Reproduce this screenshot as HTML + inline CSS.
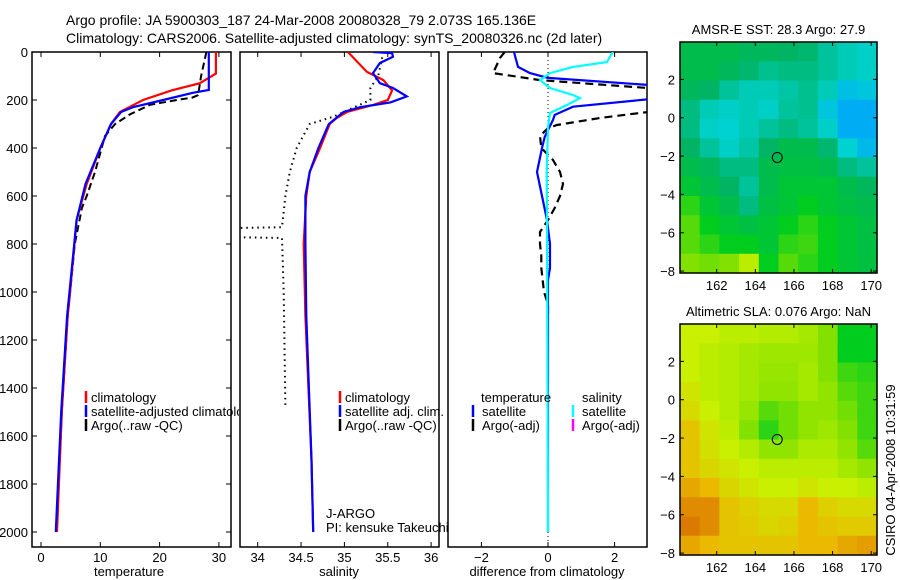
<!DOCTYPE html>
<html><head><meta charset="utf-8"><style>
html,body{margin:0;padding:0;background:#fff;}
svg{display:block;font-family:"Liberation Sans",sans-serif;}
</style></head><body>
<svg id="fig" width="900" height="580" viewBox="0 0 900 580" xmlns="http://www.w3.org/2000/svg">
<defs>
<clipPath id="c1"><rect x="32" y="52" width="199" height="495"/></clipPath>
<clipPath id="c1w"><rect x="32" y="52" width="207" height="495"/></clipPath>
<clipPath id="c2"><rect x="240" y="52" width="199" height="495"/></clipPath>
<clipPath id="c3"><rect x="448" y="52" width="199" height="495"/></clipPath>
</defs>
<text x="66" y="25" font-size="14">Argo profile: JA 5900303_187 24-Mar-2008 20080328_79 2.073S 165.136E</text>
<text x="66" y="43" font-size="14">Climatology: CARS2006. Satellite-adjusted climatology: synTS_20080326.nc (2d later)</text>
<g id="g"></g>
</svg>
<script>
// ---- data ----
const tempClimDepth=[0,90,130,160,200,250,300,400,550,700,1000,1100,1500,2000];
const tempClimVal=[29.5,29.5,26.8,22,17.2,13.3,11.8,10,7.7,6,4.9,4.5,3.5,2.7];
const tempSatDepth=[0,158,170,200,230,250,300,400,550,700,1000,1100,1500,2000];
const tempSatVal=[28.3,28.3,25.6,20.6,15.5,13.5,11.8,10,7.5,6,4.8,4.4,3.4,2.5];
const tempArgoDepth=[0,100,180,190,200,220,260,300,350,500,600,650,800,1000,1100,1500,2000];
const tempArgoVal=[27.9,27,26.5,25.5,22.9,18.4,15,12.5,10.8,9.1,7.7,6.9,5.7,4.9,4.5,3.5,2.6];
const salClimDepth=[0,83,117,160,200,221,250,275,300,400,500,600,800,1100,1700,2000];
const salClimVal=[35.04,35.26,35.45,35.55,35.5,35.33,35.03,34.91,34.83,34.72,34.6,34.56,34.53,34.55,34.62,34.64];
const salSatDepth=[0,5,20,46,88,130,150,185,210,230,250,300,400,500,600,800,1100,1700,2000];
const salSatVal=[35.33,35.55,35.56,35.41,35.33,35.41,35.56,35.72,35.53,35.18,34.99,34.82,34.7,34.6,34.55,34.55,34.56,34.62,34.64];
const salArgoDepth=[0,100,150,200,270,300,400,500,600,700,730,735,770,775,1000,1480];
const salArgoVal=[35.45,35.39,35.3,35.3,34.87,34.6,34.45,34.37,34.32,34.29,34.28,33.5,33.5,34.28,34.3,34.32];
const dTSatDepth=[0,62,88,108,137,170,197,228,262,283,354,400,500,600,700,800,900,950,2000];
const dTSatVal=[-1.02,-0.9,-0.54,0,3,4.5,3,0.75,0.2,0.15,-0.1,-0.18,-0.33,-0.18,-0.03,0.06,0.06,0,0];
const dTArgoDepth=[0,25,88,117,150,200,250,275,304,317,350,400,450,500,550,600,650,700,750,800,850,900,1000,1050,1100];
const dTArgoVal=[-1.3,-1.44,-1.65,-0.24,3,5,3,1.56,0.27,0,-0.24,-0.2,0.15,0.36,0.45,0.36,0.2,0,-0.24,-0.24,-0.2,-0.2,-0.12,0,0];
const dSSatDepth=[0,42,62,88,117,150,179,192,221,254,312,500,700,2000];
const dSSatVal=[1.95,1.77,0.75,0.06,-0.24,0.06,0.75,0.96,0.57,0.06,0,-0.04,-0.03,0];
const depthTicks=[0,200,400,600,800,1000,1200,1400,1600,1800,2000];
const tempTicks=[0,10,20,30];
const salTicks=["34","34.5","35","35.5","36"];
const diffTicks=[-2,0,2];
const lonTicks=[162,164,166,168,170];
const latTicks=[2,0,-2,-4,-6,-8];
const sstGrid=[
[0.45,0.45,0.45,0.42,0.42,0.4,0.38,0.3,0.25,0.22],
[0.45,0.45,0.42,0.38,0.32,0.35,0.35,0.3,0.25,0.22],
[0.42,0.4,0.3,0.25,0.25,0.28,0.32,0.25,0.12,0.15],
[0.35,0.25,0.22,0.25,0.22,0.3,0.32,0.15,0.05,0.05],
[0.35,0.22,0.2,0.25,0.3,0.35,0.3,0.22,0.05,0.05],
[0.4,0.3,0.22,0.28,0.4,0.45,0.45,0.38,0.2,0.1],
[0.45,0.42,0.35,0.35,0.45,0.47,0.47,0.45,0.35,0.3],
[0.5,0.45,0.4,0.3,0.45,0.5,0.5,0.5,0.45,0.42],
[0.6,0.5,0.45,0.35,0.47,0.5,0.55,0.5,0.47,0.45],
[0.65,0.55,0.5,0.47,0.5,0.55,0.6,0.55,0.5,0.47],
[0.65,0.6,0.55,0.55,0.5,0.6,0.62,0.55,0.5,0.47],
[0.7,0.68,0.7,0.78,0.55,0.65,0.6,0.55,0.5,0.48]];
const slaGrid=[
[0.8,0.8,0.78,0.78,0.77,0.77,0.75,0.7,0.55,0.55],
[0.8,0.78,0.77,0.75,0.74,0.74,0.74,0.7,0.55,0.55],
[0.8,0.78,0.77,0.75,0.73,0.73,0.75,0.7,0.62,0.6],
[0.82,0.78,0.77,0.75,0.72,0.72,0.75,0.72,0.65,0.62],
[0.84,0.8,0.77,0.73,0.65,0.68,0.72,0.72,0.68,0.62],
[0.88,0.82,0.78,0.7,0.6,0.68,0.72,0.74,0.7,0.62],
[0.88,0.83,0.8,0.77,0.72,0.72,0.76,0.76,0.72,0.65],
[0.88,0.85,0.82,0.8,0.78,0.78,0.78,0.78,0.75,0.72],
[0.92,0.9,0.85,0.82,0.8,0.8,0.82,0.8,0.8,0.78],
[0.95,0.95,0.88,0.86,0.84,0.84,0.9,0.86,0.84,0.84],
[0.97,0.95,0.88,0.87,0.85,0.86,0.9,0.88,0.87,0.87],
[0.92,0.9,0.88,0.88,0.88,0.88,0.9,0.9,0.92,0.93]];
const floatLon=165.136, floatLat=-2.073;

// ---- helpers ----
const NS="http://www.w3.org/2000/svg";
const G=document.getElementById('g');
function mk(tag,at,parent){const e=document.createElementNS(NS,tag);for(const k in at)e.setAttribute(k,at[k]);(parent||G).appendChild(e);return e;}
const yD=d=>52+d*0.24;
const xT=t=>41+t*5.93;
const xS=s=>257.7+(s-34)*86.7;
const xDf=v=>548+v*33.3;
function line(xs,ds,xf,color,w,dash,clip,name){
  const pts=xs.map((v,i)=>xf(v).toFixed(1)+','+yD(ds[i]).toFixed(1)).join(' ');
  const e=mk('polyline',{points:pts,fill:'none',stroke:color,'stroke-width':w,'clip-path':'url(#'+clip+')'});
  if(dash)e.setAttribute('stroke-dasharray',dash);
  
  
}
function txt(x,y,s,size,anchor,name){const e=mk('text',{x:x,y:y,'font-size':size,'text-anchor':anchor||'start'});e.textContent=s;
  
  return e;}
function frame(x,y,w,h,name){const e=mk('rect',{x:x,y:y,width:w,height:h,fill:'none',stroke:'#000','stroke-width':1.5});
  
  }

// ---- panel 1 temperature ----
frame(32,52,199,495,'temperature-panel');
depthTicks.forEach(d=>{const y=yD(d);
  mk('line',{x1:32,x2:37,y1:y,y2:y,stroke:'#000'});mk('line',{x1:226,x2:231,y1:y,y2:y,stroke:'#000'});
  txt(28,y+5,String(d),13,'end','depth-tick-label');});
tempTicks.forEach(t=>{const x=xT(t);
  mk('line',{x1:x,x2:x,y1:547,y2:542,stroke:'#000'});mk('line',{x1:x,x2:x,y1:52,y2:57,stroke:'#000'});
  txt(x,562,String(t),13,'middle','temperature-tick-label');});
txt(129,576,'temperature',13,'middle','temperature-axis-title');
line(tempArgoVal,tempArgoDepth,xT,'#000',2,'7,4','c1','temp-argo-line');
line(tempClimVal,tempClimDepth,xT,'#f00',2.2,null,'c1','temp-climatology-line');
line(tempSatVal,tempSatDepth,xT,'#00f',2.2,null,'c1','temp-satellite-line');
[['#f00','climatology'],['#00f','satellite-adjusted climatology'],['#000','Argo(..raw -QC)']].forEach((l,i)=>{
  const y=397+i*14;mk('line',{x1:86,x2:86,y1:y-6,y2:y+6,stroke:l[0],'stroke-width':2.5});
  const t=txt(91,y+5,l[1],13,'start','temp-legend-entry');t.setAttribute('clip-path','url(#c1w)');});

// ---- panel 2 salinity ----
frame(240,52,199,495,'salinity-panel');
salTicks.forEach(s=>{const x=xS(parseFloat(s));
  mk('line',{x1:x,x2:x,y1:547,y2:542,stroke:'#000'});mk('line',{x1:x,x2:x,y1:52,y2:57,stroke:'#000'});
  txt(x,562,s,13,'middle','salinity-tick-label');});
txt(339,576,'salinity',13,'middle','salinity-axis-title');
line(salArgoVal,salArgoDepth,xS,'#000',2,'1.5,4','c2','sal-argo-line');
line(salClimVal,salClimDepth,xS,'#f00',2.2,null,'c2','sal-climatology-line');
line(salSatVal,salSatDepth,xS,'#00f',2.2,null,'c2','sal-satellite-line');
[['#f00','climatology'],['#00f','satellite adj. clim.'],['#000','Argo(..raw -QC)']].forEach((l,i)=>{
  const y=397+i*14;mk('line',{x1:340,x2:340,y1:y-6,y2:y+6,stroke:l[0],'stroke-width':2.5});
  txt(345,y+5,l[1],13,'start','sal-legend-entry');});
txt(326,518,'J-ARGO',13,'start','project-label');
txt(326,532,'PI: kensuke Takeuchi',13,'start','pi-label');

// ---- panel 3 differences ----
frame(448,52,199,495,'difference-panel');
diffTicks.forEach(v=>{const x=xDf(v);
  mk('line',{x1:x,x2:x,y1:547,y2:542,stroke:'#000'});mk('line',{x1:x,x2:x,y1:52,y2:57,stroke:'#000'});
  txt(x,562,String(v).replace('-','\u2212'),13,'middle','difference-tick-label');});
txt(547,576,'difference from climatology',13,'middle','difference-axis-title');
mk('line',{x1:548,x2:548,y1:52,y2:547,stroke:'#000','stroke-dasharray':'1,3'});
line(dTArgoVal,dTArgoDepth,xDf,'#000',2.2,'8,5','c3','dtemp-argo-line');
line(dTSatVal,dTSatDepth,xDf,'#00f',2.2,null,'c3','dtemp-satellite-line');
line(dSSatVal,dSSatDepth,xDf,'#0ff',2.2,null,'c3','dsal-satellite-line');
txt(481,402,'temperature',13,'start','diff-legend-header');
txt(582,402,'salinity',13,'start','diff-legend-header');
[['#00f','satellite',473,482],['#000','Argo(-adj)',473,482],['#0ff','satellite',573,582],['#f0f','Argo(-adj)',573,582]].forEach((l,i)=>{
  const y=411+(i%2)*14;mk('line',{x1:l[2],x2:l[2],y1:y-6,y2:y+6,stroke:l[0],'stroke-width':2.5});
  txt(l[3],y+5,l[1],13,'start','diff-legend-entry');});

// ---- maps ----
const stops=[[0,[0,160,255]],[0.2,[0,210,210]],[0.4,[0,180,100]],[0.55,[0,205,30]],[0.7,[130,225,0]],[0.8,[200,240,0]],[0.9,[235,185,0]],[1,[210,95,0]]];
function cmap(v){for(let i=1;i<stops.length;i++){if(v<=stops[i][0]){const a=stops[i-1],b=stops[i];const f=(v-a[0])/(b[0]-a[0]);
  return 'rgb('+a[1].map((c,k)=>Math.round(c+(b[1][k]-c)*f)).join(',')+')';}}return 'rgb(210,95,0)';}
function drawMap(top,grid,title,name){
  const L=680,W=197,H=231,lon0=160.1,lon1=170.3,lat0=3.95,lat1=-8.1;
  const xL=lo=>L+(lo-lon0)/(lon1-lon0)*W, yL=la=>top+(la-lat0)/(lat1-lat0)*H;
  const rows=grid.length,cols=grid[0].length;
  grid.forEach((row,r)=>row.forEach((v,c)=>{
    const cell=mk('rect',{x:(L+c*W/cols).toFixed(2),y:(top+r*H/rows).toFixed(2),width:(W/cols+0.6).toFixed(2),height:(H/rows+0.6).toFixed(2),fill:cmap(v)});
    
    
  }));
  frame(L,top,W,H,name);
  lonTicks.forEach(lo=>{const x=xL(lo);mk('line',{x1:x,x2:x,y1:top+H,y2:top+H-4,stroke:'#000'});mk('line',{x1:x,x2:x,y1:top,y2:top+4,stroke:'#000'});
    txt(x,top+H+17,String(lo),13,'middle','lon-tick-label');});
  latTicks.forEach(la=>{const y=yL(la);mk('line',{x1:L,x2:L+4,y1:y,y2:y,stroke:'#000'});mk('line',{x1:L+W,x2:L+W-4,y1:y,y2:y,stroke:'#000'});
    txt(L-5,y+5,String(la).replace('-','\u2212'),13,'end','lat-tick-label');});
  const c=mk('circle',{cx:xL(floatLon),cy:yL(floatLat),r:5,fill:'none',stroke:'#000','stroke-width':1});
  
  
  txt(L+W/2,top-8,title,13,'middle','map-title');
}
drawMap(42,sstGrid,'AMSR-E SST: 28.3 Argo: 27.9','sst-map');
drawMap(324,slaGrid,'Altimetric SLA: 0.076 Argo: NaN','sla-map');
const cs=txt(0,0,'CSIRO 04-Apr-2008 10:31:59',13,'middle','timestamp-label');
cs.setAttribute('transform','translate(895,470) rotate(-90)');
</script>
</body></html>
